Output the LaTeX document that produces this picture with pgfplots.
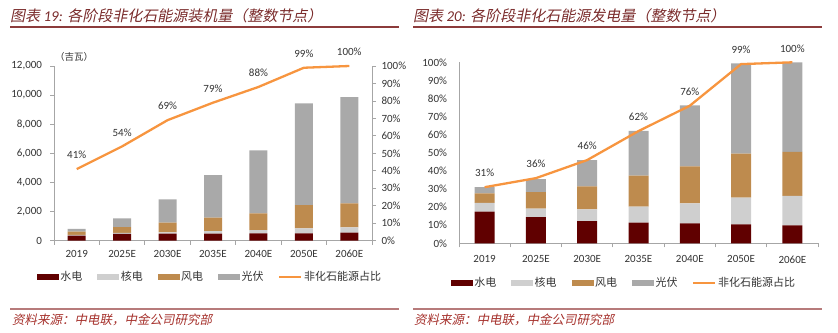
\documentclass[border=0pt]{standalone}
\usepackage{fontspec}
\setmainfont{Carlito}
\newfontfamily\cjk{Noto Sans CJK SC}
\newfontfamily\cjkit[FakeSlant=0.2]{Noto Sans CJK SC}
\usepackage{pgfplots}
\pgfplotsset{compat=1.18}
\definecolor{hydro}{HTML}{600000}
\definecolor{nuclear}{HTML}{CFCFCF}
\definecolor{wind}{HTML}{BE8B4E}
\definecolor{solar}{HTML}{A9A9A9}
\definecolor{lineor}{HTML}{F7953F}
\definecolor{axisgray}{HTML}{A6A6A6}
\definecolor{txt}{HTML}{333333}
\definecolor{titlecol}{HTML}{7A2B2B}
\definecolor{rulecol}{HTML}{8C3B3B}
\definecolor{footrule}{HTML}{B77B7B}
\definecolor{foottxt}{HTML}{A5302B}
\pgfplotsset{
  common/.style={
    scale only axis, xmin=-0.5, xmax=6.5,
    /pgf/number format/assume math mode=true,
    ticklabel style={font=\fontsize{11}{12}\selectfont, text=txt},
    axis line style={draw=axisgray, line width=0.8pt},
    tick style={draw=axisgray, line width=0.8pt},
    tick align=outside, scaled ticks=false,
  },
  legstyle/.style={
    legend columns=5,
    legend style={draw=none, fill=none, font=\fontsize{11}{12}\cjk, text=txt,
      /tikz/every even column/.append style={column sep=13pt},
      /tikz/every odd column/.append style={column sep=0pt},
      nodes={inner sep=2pt}, anchor=center},
  },
  boxh/.style={legend image code/.code={\fill[hydro] (0pt,-2.5pt) rectangle (21pt,2.5pt);}},
  boxn/.style={legend image code/.code={\fill[nuclear] (0pt,-2.5pt) rectangle (21pt,2.5pt);}},
  boxw/.style={legend image code/.code={\fill[wind] (0pt,-2.5pt) rectangle (21pt,2.5pt);}},
  boxs/.style={legend image code/.code={\fill[solar] (0pt,-2.5pt) rectangle (21pt,2.5pt);}},
  linel/.style={legend image code/.code={\draw[lineor, line width=1.5pt] (0pt,0pt) -- (22pt,0pt);}},
}
\begin{document}
\begin{tikzpicture}[x=1pt,y=1pt]
\useasboundingbox (0pt,0pt) rectangle (838pt,-332pt);
% ---- titles ----
\node[anchor=base west, inner sep=0pt, text=titlecol, font=\fontsize{15}{15}\cjkit] at (10pt,-21pt) {图表 {\normalfont\itshape 19:} 各阶段非化石能源装机量（整数节点）};
\draw[rulecol, line width=1.3pt] (10pt,-27pt) -- (399pt,-27pt);
\node[anchor=base west, inner sep=0pt, text=titlecol, font=\fontsize{15}{15}\cjkit] at (413pt,-21pt) {图表 {\normalfont\itshape 20:} 各阶段非化石能源发电量（整数节点）};
\draw[rulecol, line width=1.3pt] (413pt,-27pt) -- (822pt,-27pt);
% ---- footers ----
\draw[footrule, line width=2pt] (10pt,-309pt) -- (399pt,-309pt);
\node[anchor=base west, inner sep=0pt, text=foottxt, font=\fontsize{12.5}{13}\cjkit] at (12pt,-324pt) {资料来源：中电联，中金公司研究部};
\draw[footrule, line width=2pt] (413pt,-309pt) -- (822pt,-309pt);
\node[anchor=base west, inner sep=0pt, text=foottxt, font=\fontsize{12.5}{13}\cjkit] at (414pt,-324pt) {资料来源：中电联，中金公司研究部};
\node[text=txt, font=\fontsize{9.5}{10}\cjk, inner sep=0pt] at (74pt,-57pt) {（吉瓦）};

% ================= LEFT CHART =================
\begin{axis}[common, at={(54pt,-240.7pt)}, anchor=south west,
  width=318pt, height=174.7pt, ymin=0, ymax=12000,
  axis x line*=bottom, axis y line*=left,
  ybar stacked, bar width=18pt,
  xtick={0,...,6}, xticklabels={2019,2025E,2030E,2035E,2040E,2050E,2060E},
  major x tick style={draw=none},
  minor xtick={-0.5,0.5,...,6.5},
  major tick length=4pt, minor tick length=4pt,
  xticklabel style={yshift=-2pt},
  ytick={0,2000,...,12000},
  yticklabel style={/pgf/number format/1000 sep={,}, xshift=-4.5pt},
]
\addplot[fill=hydro, draw=none] coordinates {(0,356) (1,470) (2,480) (3,480) (4,510) (5,510) (6,550)};
\addplot[fill=nuclear, draw=none] coordinates {(0,49) (1,70) (2,100) (3,185) (4,225) (5,340) (6,370)};
\addplot[fill=wind, draw=none] coordinates {(0,210) (1,400) (2,660) (3,915) (4,1145) (5,1590) (6,1650)};
\addplot[fill=solar, draw=none] coordinates {(0,205) (1,600) (2,1600) (3,2930) (4,4330) (5,7000) (6,7300)};
\end{axis}
\begin{axis}[common, at={(54pt,-240.7pt)}, anchor=south west,
  width=318pt, height=174.7pt, ymin=0, ymax=100,
  axis y line*=right, axis x line=none,
  ytick={0,10,...,100}, yticklabel={\pgfmathprintnumber{\tick}\%},
  yticklabel style={xshift=2pt},
  major tick length=4pt,
  legstyle, legend style={at={(axis description cs:0.4906,-0.2078)}},
  clip=false,
]
\addlegendimage{boxh}
\addlegendimage{boxn}
\addlegendimage{boxw}
\addlegendimage{boxs}
\addplot[lineor, line width=2.3pt, linel, mark=none,
  nodes near coords={\pgfmathprintnumber{\pgfplotspointmeta}\%},
  every node near coord/.append style={font=\fontsize{11}{12}\selectfont, text=txt, anchor=center, yshift=14pt}]
  coordinates {(0,41) (1,54) (2,69) (3,79) (4,88) (5,99) (6,100)};
\legend{水电,核电,风电,光伏,非化石能源占比}
\end{axis}

% ================= RIGHT CHART =================
\begin{axis}[common, at={(459pt,-243.3pt)}, anchor=south west,
  width=359pt, height=181pt, ymin=0, ymax=100,
  axis x line*=bottom, axis y line*=left,
  ybar stacked, bar width=20pt,
  xtick={0,...,6}, xticklabels={2019,2025E,2030E,2035E,2040E,2050E,2060E},
  major x tick style={draw=none}, major y tick style={draw=none},
  minor xtick={-0.5,0.5,...,6.5},
  major tick length=0pt, minor tick length=4pt,
  xticklabel style={yshift=-9pt},
  ytick={0,10,...,100}, yticklabel={\pgfmathprintnumber{\tick}\%},
  yticklabel style={xshift=-8.5pt},
]
\addplot[fill=hydro, draw=none] coordinates {(0,17.5) (1,14.4) (2,12.2) (3,11.4) (4,11.0) (5,10.5) (6,9.9)};
\addplot[fill=nuclear, draw=none] coordinates {(0,4.8) (1,4.7) (2,6.6) (3,8.9) (4,11.1) (5,14.7) (6,16.3)};
\addplot[fill=wind, draw=none] coordinates {(0,5.3) (1,9.2) (2,12.7) (3,17.1) (4,20.4) (5,24.3) (6,24.3)};
\addplot[fill=solar, draw=none] coordinates {(0,3.4) (1,7.1) (2,14.5) (3,24.7) (4,33.7) (5,49.9) (6,49.5)};
\end{axis}
\begin{axis}[common, at={(459pt,-243.3pt)}, anchor=south west,
  width=359pt, height=181pt, ymin=0, ymax=100,
  axis lines=none,
  legstyle, legend style={at={(axis description cs:0.4596,-0.2193)}},
  clip=false,
]
\addlegendimage{boxh}
\addlegendimage{boxn}
\addlegendimage{boxw}
\addlegendimage{boxs}
\addplot[lineor, line width=2.3pt, linel, mark=none,
  nodes near coords={\pgfmathprintnumber{\pgfplotspointmeta}\%},
  every node near coord/.append style={font=\fontsize{11}{12}\selectfont, text=txt, anchor=center, yshift=14pt}]
  coordinates {(0,31) (1,36) (2,46) (3,62) (4,76) (5,99) (6,100)};
\legend{水电,核电,风电,光伏,非化石能源占比}
\end{axis}
\end{tikzpicture}
\end{document}
